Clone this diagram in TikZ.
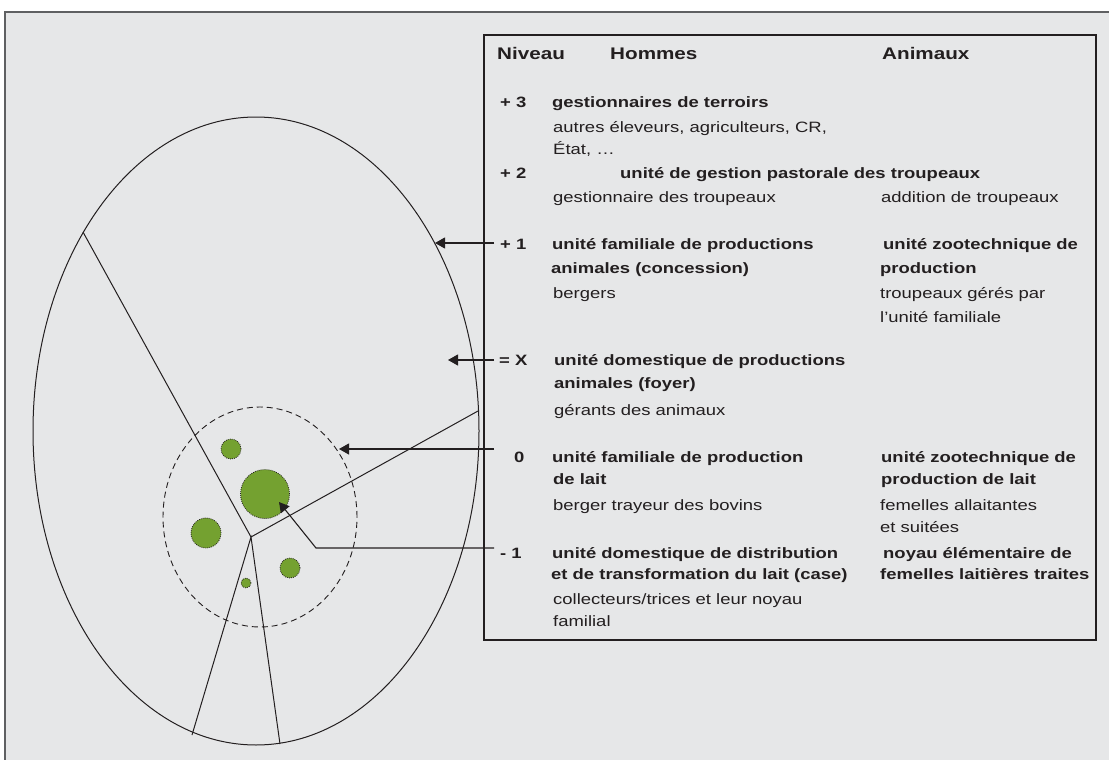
\documentclass[tikz,border=0pt]{standalone}
\usepackage{fontspec}
\setmainfont{Liberation Sans}[FakeStretch=1.23]
\usetikzlibrary{arrows.meta}
\definecolor{panel}{HTML}{E6E7E8}
\definecolor{ink}{HTML}{231F20}
\definecolor{framegray}{HTML}{5F6062}
\definecolor{leaf}{HTML}{74A130}
\begin{document}
\begin{tikzpicture}[x=1pt,y=-1pt,
  txt/.style={anchor=base west, inner sep=0pt, text=ink, font=\fontsize{15}{17}\selectfont},
  bt/.style={anchor=base west, inner sep=0pt, text=ink, font=\fontsize{15}{17}\selectfont\bfseries},
  hd/.style={anchor=base west, inner sep=0pt, text=ink, font=\fontsize{16.8}{19}\selectfont\bfseries},
  lvl/.style={draw=ink, line width=1.1pt, -{Triangle[length=10pt,width=11pt]}},
  wall/.style={draw=ink, line width=1pt},
  spot/.style={circle, fill=leaf, draw=ink, line width=0.8pt, dash pattern=on 0.8pt off 1.2pt, inner sep=0pt},
]
\useasboundingbox (0,0) rectangle (1109,760);
\fill[white] (0,0) rectangle (1109,760);
\fill[panel] (5,12) rectangle (1109,760);
\draw[framegray, line width=1.1pt] (5,760) -- (5,12) -- (1109,12);
% legend box
\draw[ink, line width=1.2pt] (484,35) rectangle (1096,640);

% field ellipse and divisions
\draw[wall] (256,431) ellipse[x radius=223pt, y radius=314pt];
\coordinate (hub) at (251,537);
\coordinate (e1) at (83,232);
\coordinate (e2) at (478,411);
\coordinate (e3) at (192,735);
\coordinate (e4) at (280,744);
\draw[wall] (e1) -- (hub) -- (e2);
\draw[wall] (e3) -- (hub) -- (e4);
% dashed ellipse
\draw[ink, line width=0.9pt, dash pattern=on 6pt off 4pt] (260,517) ellipse[x radius=97pt, y radius=110pt];
% green spots
\node[spot, minimum size=49pt] (big) at (265,494) {};
\node[spot, minimum size=20pt] (top) at (231,449) {};
\node[spot, minimum size=30pt] (left) at (206,533) {};
\node[spot, minimum size=20pt] (right) at (290,568) {};
\node[spot, minimum size=10pt] (tiny) at (246,583) {};

% header
\node[hd] (hN) at (497,60) {Niveau};
\node[hd] (hH) at (610,60) {Hommes};
\node[hd] (hA) at (882,60) {Animaux};
% +3
\node[bt] (l3) at (500,107) {+ 3};
\node[bt] at (552,107) {gestionnaires de terroirs};
\node[txt] at (553,132) {autres éleveurs, agriculteurs, CR,};
\node[txt] at (553,154) {État, …};
% +2
\node[bt] (l2) at (500,178) {+ 2};
\node[bt] at (620,178) {unité de gestion pastorale des troupeaux};
\node[txt] at (553,202) {gestionnaire des troupeaux};
\node[txt] at (881,202) {addition de troupeaux};
% +1
\node[bt] (l1) at (500,249) {+ 1};
\node[bt] at (552,249) {unité familiale de productions};
\node[bt] at (551,273) {animales (concession)};
\node[txt] at (553,298) {bergers};
\node[bt] at (883,249) {unité zootechnique de};
\node[bt] at (880,273) {production};
\node[txt] at (880,298) {troupeaux gérés par};
\node[txt] at (880,322) {l’unité familiale};
% =X
\node[bt] (lX) at (499,365) {= X};
\node[bt] at (554,365) {unité domestique de productions};
\node[bt] at (554,388) {animales (foyer)};
\node[txt] at (554,415) {gérants des animaux};
% 0
\node[bt] (l0) at (514,462) {0};
\node[bt] at (552,462) {unité familiale de production};
\node[bt] at (553,484) {de lait};
\node[txt] at (553,510) {berger trayeur des bovins};
\node[bt] at (881,462) {unité zootechnique de};
\node[bt] at (881,484) {production de lait};
\node[txt] at (880,510) {femelles allaitantes};
\node[txt] at (880,532) {et suitées};
% -1
\node[bt] (lm) at (500,558) {- 1};
\node[bt] at (552,558) {unité domestique de distribution};
\node[bt] at (551,579) {et de transformation du lait (case)};
\node[txt] at (553,604) {collecteurs/trices et leur noyau};
\node[txt] at (553,626) {familial};
\node[bt] at (883,558) {noyau élémentaire de};
\node[bt] at (880,579) {femelles laitières traites};

% level arrows
\coordinate (s1) at (494,243);
\coordinate (t1) at (435,243);
\coordinate (sX) at (494,360);
\coordinate (tX) at (448,360);
\coordinate (s0) at (494,449);
\coordinate (t0) at (339,449);
\coordinate (sm) at (494,548);
\coordinate (km) at (316,548);
\coordinate (tm) at (279,502);
\draw[lvl] (s1) -- (t1);
\draw[lvl] (sX) -- (tX);
\draw[lvl] (s0) -- (t0);
\draw[lvl] (sm) -- (km) -- (tm);
\end{tikzpicture}
\end{document}
